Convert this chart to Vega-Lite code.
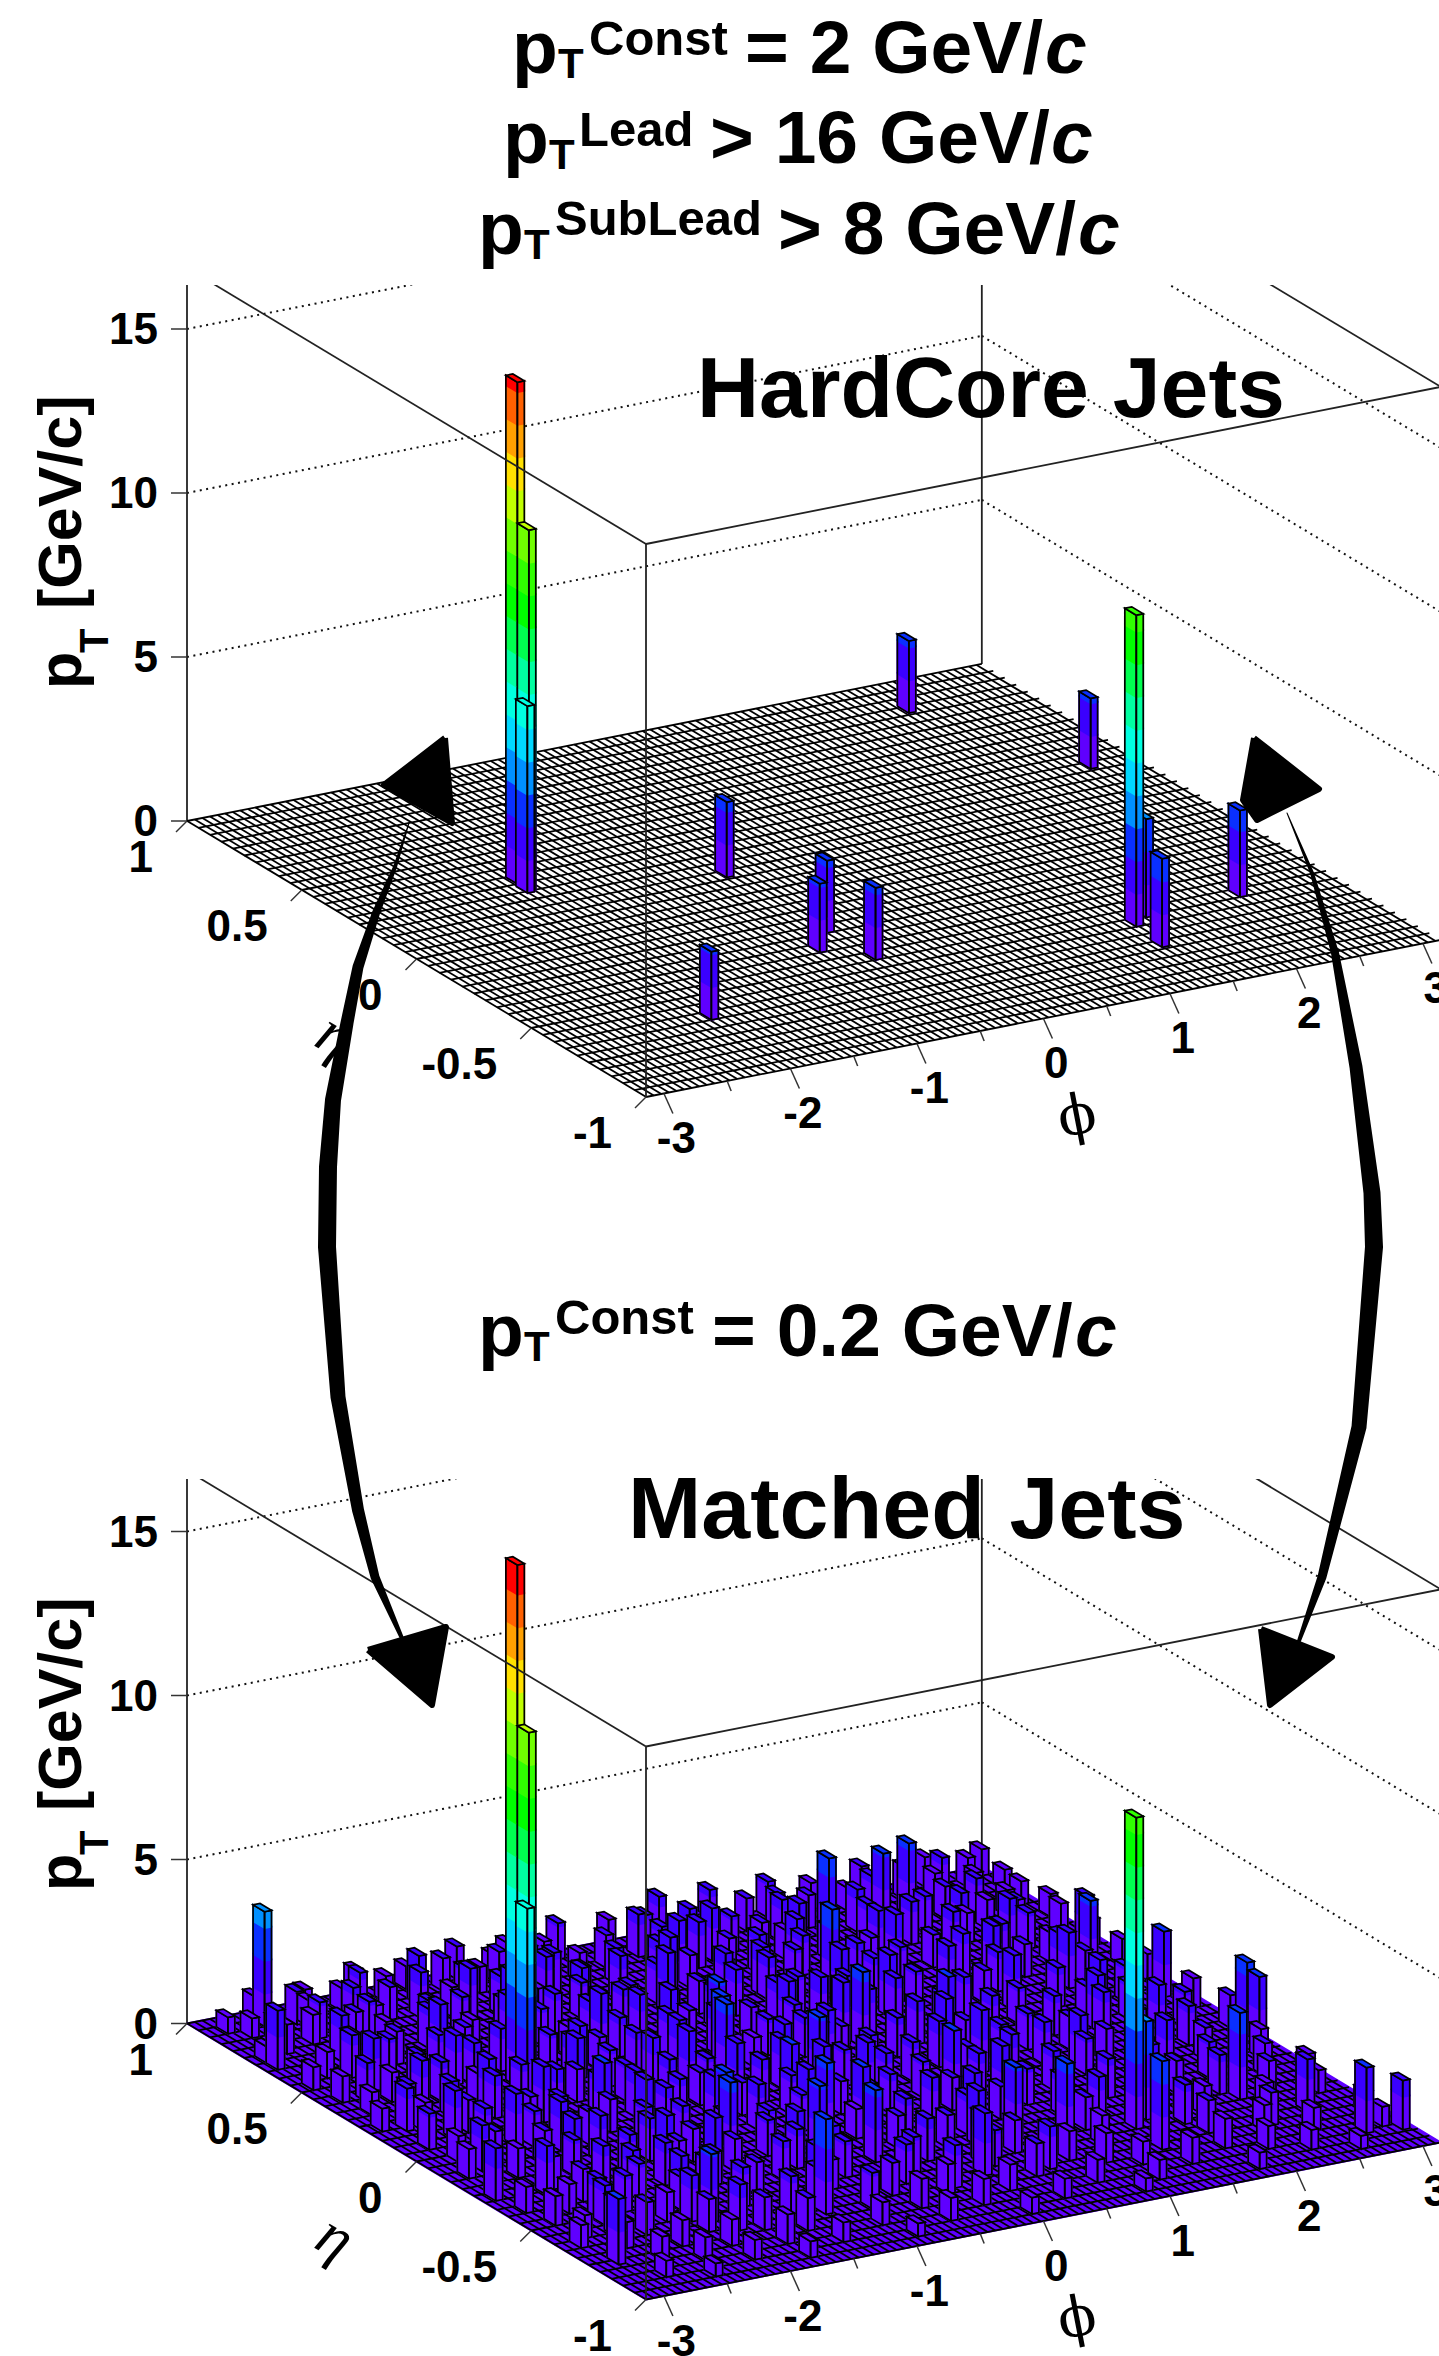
{"$schema":"https://vega.github.io/schema/vega-lite/v6.json","width":1439,"height":2356,"padding":0,"autosize":"none","background":"white",
"config":{"view":{"stroke":null},"axis":{"disable":true},"text":{"font":"Liberation Sans","fontWeight":"bold","align":"left","baseline":"alphabetic","color":"black"}},
"data":{"values":[{}]},
"datasets":{
"frames":[
{"kind":"dot","phi":-3.1416,"eta":1,"z":5,"phi2":3.1416,"eta2":1,"z2":5},
{"kind":"dot","phi":-3.1416,"eta":1,"z":10,"phi2":3.1416,"eta2":1,"z2":10},
{"kind":"dot","phi":-3.1416,"eta":1,"z":15,"phi2":3.1416,"eta2":1,"z2":15},
{"kind":"dot","phi":3.1416,"eta":1,"z":5,"phi2":3.1416,"eta2":-1,"z2":5},
{"kind":"dot","phi":3.1416,"eta":1,"z":10,"phi2":3.1416,"eta2":-1,"z2":10},
{"kind":"dot","phi":3.1416,"eta":1,"z":15,"phi2":3.1416,"eta2":-1,"z2":15},
{"kind":"back","phi":-3.1416,"eta":1,"z":0,"phi2":-3.1416,"eta2":1,"z2":16.86},
{"kind":"back","phi":3.1416,"eta":1,"z":0,"phi2":3.1416,"eta2":1,"z2":16.86},
{"kind":"back","phi":3.1416,"eta":1,"z":16.86,"phi2":3.1416,"eta2":-1,"z2":16.86},
{"kind":"front","phi":-3.1416,"eta":-1,"z":0,"phi2":-3.1416,"eta2":-1,"z2":16.86},
{"kind":"front","phi":-3.1416,"eta":-1,"z":16.86,"phi2":-3.1416,"eta2":1,"z2":16.86},
{"kind":"front","phi":-3.1416,"eta":-1,"z":16.86,"phi2":3.1416,"eta2":-1,"z2":16.86}],
"mesh":[{"g":"e","v":-1},{"g":"e","v":-0.95},{"g":"e","v":-0.9},{"g":"e","v":-0.85},{"g":"e","v":-0.8},{"g":"e","v":-0.75},{"g":"e","v":-0.7},{"g":"e","v":-0.65},{"g":"e","v":-0.6},{"g":"e","v":-0.55},{"g":"e","v":-0.5},{"g":"e","v":-0.45},{"g":"e","v":-0.4},{"g":"e","v":-0.35},{"g":"e","v":-0.3},{"g":"e","v":-0.25},{"g":"e","v":-0.2},{"g":"e","v":-0.15},{"g":"e","v":-0.1},{"g":"e","v":-0.05},{"g":"e","v":0},{"g":"e","v":0.05},{"g":"e","v":0.1},{"g":"e","v":0.15},{"g":"e","v":0.2},{"g":"e","v":0.25},{"g":"e","v":0.3},{"g":"e","v":0.35},{"g":"e","v":0.4},{"g":"e","v":0.45},{"g":"e","v":0.5},{"g":"e","v":0.55},{"g":"e","v":0.6},{"g":"e","v":0.65},{"g":"e","v":0.7},{"g":"e","v":0.75},{"g":"e","v":0.8},{"g":"e","v":0.85},{"g":"e","v":0.9},{"g":"e","v":0.95},{"g":"e","v":1},
{"g":"p","v":-3.14},{"g":"p","v":-3.08},{"g":"p","v":-3.02},{"g":"p","v":-2.96},{"g":"p","v":-2.9},{"g":"p","v":-2.84},{"g":"p","v":-2.78},{"g":"p","v":-2.72},{"g":"p","v":-2.66},{"g":"p","v":-2.6},{"g":"p","v":-2.54},{"g":"p","v":-2.48},{"g":"p","v":-2.42},{"g":"p","v":-2.36},{"g":"p","v":-2.3},{"g":"p","v":-2.24},{"g":"p","v":-2.18},{"g":"p","v":-2.12},{"g":"p","v":-2.06},{"g":"p","v":-2},{"g":"p","v":-1.94},{"g":"p","v":-1.88},{"g":"p","v":-1.82},{"g":"p","v":-1.76},{"g":"p","v":-1.7},{"g":"p","v":-1.64},{"g":"p","v":-1.58},{"g":"p","v":-1.52},{"g":"p","v":-1.46},{"g":"p","v":-1.4},{"g":"p","v":-1.34},{"g":"p","v":-1.28},{"g":"p","v":-1.22},{"g":"p","v":-1.16},{"g":"p","v":-1.1},{"g":"p","v":-1.04},{"g":"p","v":-0.98},{"g":"p","v":-0.92},{"g":"p","v":-0.86},{"g":"p","v":-0.8},{"g":"p","v":-0.74},{"g":"p","v":-0.68},{"g":"p","v":-0.62},{"g":"p","v":-0.56},{"g":"p","v":-0.5},{"g":"p","v":-0.44},{"g":"p","v":-0.38},{"g":"p","v":-0.32},{"g":"p","v":-0.26},{"g":"p","v":-0.2},{"g":"p","v":-0.14},{"g":"p","v":-0.08},{"g":"p","v":-0.02},{"g":"p","v":0.04},{"g":"p","v":0.1},{"g":"p","v":0.16},{"g":"p","v":0.22},{"g":"p","v":0.28},{"g":"p","v":0.34},{"g":"p","v":0.4},{"g":"p","v":0.46},{"g":"p","v":0.52},{"g":"p","v":0.58},{"g":"p","v":0.64},{"g":"p","v":0.7},{"g":"p","v":0.76},{"g":"p","v":0.82},{"g":"p","v":0.88},{"g":"p","v":0.94},{"g":"p","v":1},{"g":"p","v":1.06},{"g":"p","v":1.12},{"g":"p","v":1.18},{"g":"p","v":1.24},{"g":"p","v":1.3},{"g":"p","v":1.36},{"g":"p","v":1.42},{"g":"p","v":1.48},{"g":"p","v":1.54},{"g":"p","v":1.6},{"g":"p","v":1.66},{"g":"p","v":1.72},{"g":"p","v":1.78},{"g":"p","v":1.84},{"g":"p","v":1.9},{"g":"p","v":1.96},{"g":"p","v":2.02},{"g":"p","v":2.08},{"g":"p","v":2.14},{"g":"p","v":2.2},{"g":"p","v":2.26},{"g":"p","v":2.32},{"g":"p","v":2.38},{"g":"p","v":2.44},{"g":"p","v":2.5},{"g":"p","v":2.56},{"g":"p","v":2.62},{"g":"p","v":2.68},{"g":"p","v":2.74},{"g":"p","v":2.8},{"g":"p","v":2.86},{"g":"p","v":2.92},{"g":"p","v":2.98},{"g":"p","v":3.04},{"g":"p","v":3.1}],
"ticks":[{"axis":"z","v":0,"lab":"0"},{"axis":"z","v":5,"lab":"5"},{"axis":"z","v":10,"lab":"10"},{"axis":"z","v":15,"lab":"15"},
{"axis":"e","v":1,"lab":"1"},{"axis":"e","v":0.5,"lab":"0.5"},{"axis":"e","v":0,"lab":"0"},{"axis":"e","v":-0.5,"lab":"-0.5"},{"axis":"e","v":-1,"lab":"-1"},
{"axis":"p","v":-3,"lab":"-3"},{"axis":"p","v":-2,"lab":"-2"},{"axis":"p","v":-1,"lab":"-1"},{"axis":"p","v":0,"lab":"0"},{"axis":"p","v":1,"lab":"1"},{"axis":"p","v":2,"lab":"2"},{"axis":"p","v":3,"lab":"3"},
{"axis":"p","v":-2.5,"lab":""},{"axis":"p","v":-1.5,"lab":""},{"axis":"p","v":-0.5,"lab":""},{"axis":"p","v":0.5,"lab":""},{"axis":"p","v":1.5,"lab":""},{"axis":"p","v":2.5,"lab":""}],
"floor":[{"phi":-3.1416,"eta":1,"o":0},{"phi":-3.1416,"eta":-1,"o":1},{"phi":3.1416,"eta":-1,"o":2},{"phi":3.1416,"eta":1,"o":3},{"phi":-3.1416,"eta":1,"o":4}],
"trails":[
{"a":"L","x":409,"y":823,"w":1},{"a":"L","x":395,"y":867,"w":4},{"a":"L","x":376,"y":913,"w":8},{"a":"L","x":358,"y":967,"w":11},{"a":"L","x":347,"y":1023,"w":13},{"a":"L","x":333,"y":1100,"w":16},{"a":"L","x":328,"y":1167,"w":18},{"a":"L","x":327,"y":1247,"w":18},{"a":"L","x":338,"y":1397,"w":15},{"a":"L","x":358,"y":1510,"w":12},{"a":"L","x":375,"y":1577,"w":9},{"a":"L","x":408,"y":1652,"w":3},
{"a":"R","x":1287,"y":813,"w":1},{"a":"R","x":1312,"y":873,"w":4},{"a":"R","x":1335,"y":953,"w":8},{"a":"R","x":1356,"y":1067,"w":13},{"a":"R","x":1372,"y":1193,"w":17},{"a":"R","x":1374,"y":1247,"w":18},{"a":"R","x":1359,"y":1427,"w":15},{"a":"R","x":1322,"y":1577,"w":9},{"a":"R","x":1295,"y":1652,"w":3}],
"heads":[
{"a":"A","o":0,"x":445,"y":738},{"a":"A","o":1,"x":384,"y":785},{"a":"A","o":2,"x":452,"y":823},{"a":"A","o":3,"x":445,"y":738},
{"a":"B","o":0,"x":368,"y":1650},{"a":"B","o":1,"x":446,"y":1627},{"a":"B","o":2,"x":432,"y":1705},{"a":"B","o":3,"x":368,"y":1650},
{"a":"C","o":0,"x":1254,"y":738},{"a":"C","o":1,"x":1319,"y":789},{"a":"C","o":2,"x":1257,"y":820},{"a":"C","o":3,"x":1243,"y":800},{"a":"C","o":4,"x":1254,"y":738},
{"a":"D","o":0,"x":1261,"y":1629},{"a":"D","o":1,"x":1332,"y":1657},{"a":"D","o":2,"x":1270,"y":1705},{"a":"D","o":3,"x":1261,"y":1629}],
"bars":[
{"panel":0,"eta":0.81,"phi":2.22,"pt":2.2},{"panel":0,"eta":0.31,"phi":2.75,"pt":2.15},{"panel":0,"eta":0.3,"phi":-1.8,"pt":15.3},{"panel":0,"eta":0.25,"phi":-1.8,"pt":11},{"panel":0,"eta":0.24,"phi":-1.83,"pt":5.7},{"panel":0,"eta":0.11,"phi":-0.49,"pt":2.3},{"panel":0,"eta":-0.3,"phi":-0.44,"pt":2.2},{"panel":0,"eta":-0.4,"phi":-0.68,"pt":2.1},{"panel":0,"eta":-0.5,"phi":-0.42,"pt":2.2},{"panel":0,"eta":-0.55,"phi":2.37,"pt":2.64},{"panel":0,"eta":-0.56,"phi":1.61,"pt":3},{"panel":0,"eta":-0.6,"phi":1.46,"pt":9.5},{"panel":0,"eta":-0.65,"phi":-1.99,"pt":2.08},{"panel":0,"eta":-0.74,"phi":1.41,"pt":2.7},
{"eta":0.95,"phi":3.05,"pt":0.8},{"eta":0.95,"phi":2.6,"pt":0.9},{"eta":0.95,"phi":2.1,"pt":1},{"eta":0.95,"phi":1.7,"pt":0.8},{"eta":0.95,"phi":1.36,"pt":1.1},{"eta":0.95,"phi":0.9,"pt":1.2},{"eta":0.95,"phi":0.5,"pt":1.3},{"eta":0.95,"phi":0.1,"pt":0.9},{"eta":0.95,"phi":-0.3,"pt":1.1},{"eta":0.95,"phi":-0.7,"pt":0.8},{"eta":0.95,"phi":-1.1,"pt":1},{"eta":0.95,"phi":-1.5,"pt":0.7},{"eta":0.95,"phi":-1.9,"pt":0.9},{"eta":0.95,"phi":-2.3,"pt":0.6},{"eta":0.95,"phi":-2.7,"pt":0.7},
{"eta":0.9,"phi":2.85,"pt":0.9},{"eta":0.9,"phi":2.35,"pt":1},{"eta":0.9,"phi":1.9,"pt":0.7},{"eta":0.9,"phi":1.1,"pt":1},{"eta":0.9,"phi":0.7,"pt":0.8},{"eta":0.9,"phi":0.3,"pt":1.1},{"eta":0.9,"phi":-0.5,"pt":0.9},{"eta":0.9,"phi":-0.9,"pt":0.8},{"eta":0.9,"phi":-1.3,"pt":1},{"eta":0.9,"phi":-1.75,"pt":0.8},{"eta":0.9,"phi":-2.1,"pt":0.7},{"eta":0.9,"phi":-2.71,"pt":3.5},{"eta":0.9,"phi":-3,"pt":0.5},
{"eta":0.875,"phi":2.6,"pt":1.2},{"eta":0.875,"phi":1.3,"pt":1.1},{"eta":0.875,"phi":0.2,"pt":1.3},{"eta":0.875,"phi":-0.9,"pt":1},{"eta":0.875,"phi":-2,"pt":1.2},{"eta":0.875,"phi":-2.5,"pt":1},
{"eta":0.85,"phi":3.05,"pt":0.6},{"eta":0.85,"phi":2.5,"pt":0.9},{"eta":0.85,"phi":2,"pt":1.2},{"eta":0.85,"phi":1.5,"pt":1},{"eta":0.85,"phi":0.56,"pt":1.3},{"eta":0.85,"phi":-0.1,"pt":1},{"eta":0.85,"phi":-0.7,"pt":1.1},{"eta":0.85,"phi":-1.1,"pt":0.8},{"eta":0.85,"phi":-1.58,"pt":1.5},{"eta":0.85,"phi":-2.45,"pt":0.8},{"eta":0.85,"phi":-2.9,"pt":0.6},
{"eta":0.81,"phi":2.75,"pt":0.9},{"eta":0.81,"phi":2.22,"pt":2.2},{"eta":0.8,"phi":2,"pt":2.1},{"eta":0.8,"phi":1.2,"pt":1.3},{"eta":0.8,"phi":0.8,"pt":1.1},{"eta":0.8,"phi":0.25,"pt":1.2},{"eta":0.8,"phi":-0.4,"pt":0.9},{"eta":0.8,"phi":-1.3,"pt":1.1},{"eta":0.8,"phi":-1.9,"pt":1},{"eta":0.8,"phi":-2.19,"pt":1.2},{"eta":0.8,"phi":-2.8,"pt":0.7},
{"eta":0.775,"phi":1.75,"pt":1.3},{"eta":0.775,"phi":0.6,"pt":1.6},{"eta":0.775,"phi":-0.65,"pt":1.2},{"eta":0.775,"phi":-1.7,"pt":1.4},{"eta":0.775,"phi":-2.5,"pt":1.1},
{"eta":0.75,"phi":3,"pt":0.7},{"eta":0.75,"phi":2.4,"pt":1},{"eta":0.75,"phi":1.48,"pt":2.56},{"eta":0.75,"phi":0.95,"pt":1},{"eta":0.75,"phi":0.45,"pt":1.4},{"eta":0.75,"phi":-0.2,"pt":1.1},{"eta":0.75,"phi":-0.9,"pt":1},{"eta":0.75,"phi":-1.5,"pt":0.9},{"eta":0.75,"phi":-2.1,"pt":0.8},{"eta":0.75,"phi":-2.6,"pt":0.9},
{"eta":0.725,"phi":2.6,"pt":1.2},{"eta":0.725,"phi":1.2,"pt":1.5},{"eta":0.725,"phi":0.25,"pt":1.7},{"eta":0.725,"phi":-0.8,"pt":1.4},{"eta":0.725,"phi":-1.4,"pt":1.5},{"eta":0.725,"phi":-2.2,"pt":1.1},{"eta":0.725,"phi":-2.85,"pt":0.9},
{"eta":0.7,"phi":2.8,"pt":0.8},{"eta":0.7,"phi":2.15,"pt":1.1},{"eta":0.7,"phi":1.7,"pt":1.2},{"eta":0.7,"phi":1.05,"pt":0.9},{"eta":0.7,"phi":0.6,"pt":1},{"eta":0.7,"phi":0.05,"pt":1.3},{"eta":0.7,"phi":-0.55,"pt":1},{"eta":0.7,"phi":-1.2,"pt":1.2},{"eta":0.7,"phi":-1.75,"pt":0.9},{"eta":0.7,"phi":-2.35,"pt":1},{"eta":0.7,"phi":-3.06,"pt":0.5},
{"eta":0.65,"phi":3.05,"pt":0.7},{"eta":0.65,"phi":2.55,"pt":0.9},{"eta":0.65,"phi":1.95,"pt":1.3},{"eta":0.65,"phi":1.3,"pt":1},{"eta":0.65,"phi":0.75,"pt":1.2},{"eta":0.65,"phi":0.2,"pt":1},{"eta":0.65,"phi":-0.35,"pt":1.4},{"eta":0.65,"phi":-1,"pt":0.9},{"eta":0.65,"phi":-1.6,"pt":1.1},{"eta":0.65,"phi":-2.2,"pt":0.8},{"eta":0.65,"phi":-3.06,"pt":1.8},
{"eta":0.625,"phi":2.3,"pt":1.4},{"eta":0.625,"phi":1,"pt":1.6},{"eta":0.625,"phi":0,"pt":1.8},{"eta":0.625,"phi":-0.7,"pt":1.4},{"eta":0.625,"phi":-1.25,"pt":1.7},{"eta":0.625,"phi":-1.9,"pt":1.3},{"eta":0.625,"phi":-2.6,"pt":1.4},
{"eta":0.6,"phi":2.7,"pt":1},{"eta":0.6,"phi":2.3,"pt":0.9},{"eta":0.6,"phi":1.6,"pt":1.5},{"eta":0.6,"phi":1,"pt":1.2},{"eta":0.6,"phi":0.4,"pt":0.9},{"eta":0.6,"phi":-0.15,"pt":1.2},{"eta":0.6,"phi":-0.75,"pt":1.1},{"eta":0.6,"phi":-1.35,"pt":1},{"eta":0.6,"phi":-1.95,"pt":1.2},{"eta":0.6,"phi":-2.55,"pt":0.9},
{"eta":0.55,"phi":2.95,"pt":0.9},{"eta":0.55,"phi":2.1,"pt":1.3},{"eta":0.55,"phi":1.45,"pt":1},{"eta":0.55,"phi":0.85,"pt":1.1},{"eta":0.55,"phi":0.3,"pt":1.4},{"eta":0.55,"phi":-0.45,"pt":1},{"eta":0.55,"phi":-1.05,"pt":1.2},{"eta":0.55,"phi":-1.7,"pt":0.9},{"eta":0.55,"phi":-2.3,"pt":1},{"eta":0.55,"phi":-2.85,"pt":0.8},
{"eta":0.525,"phi":2.5,"pt":1.5},{"eta":0.525,"phi":1.6,"pt":1.7},{"eta":0.525,"phi":0.55,"pt":1.5},{"eta":0.525,"phi":-0.2,"pt":1.9},{"eta":0.525,"phi":-1.45,"pt":1.5},{"eta":0.525,"phi":-2,"pt":1.7},{"eta":0.525,"phi":-2.7,"pt":1.3},
{"eta":0.5,"phi":2.6,"pt":1.1},{"eta":0.5,"phi":1.85,"pt":1},{"eta":0.5,"phi":1.25,"pt":1.2},{"eta":0.5,"phi":0.55,"pt":1.3},{"eta":0.5,"phi":0,"pt":1},{"eta":0.5,"phi":-0.6,"pt":1.2},{"eta":0.5,"phi":-1.25,"pt":1.1},{"eta":0.5,"phi":-1.85,"pt":1},{"eta":0.5,"phi":-2.45,"pt":1.1},{"eta":0.5,"phi":-3.05,"pt":0.7},
{"eta":0.46,"phi":0.98,"pt":2.6},{"eta":0.45,"phi":3.02,"pt":0.8},{"eta":0.45,"phi":2.3,"pt":1.2},{"eta":0.45,"phi":1.5,"pt":1.1},{"eta":0.45,"phi":0.2,"pt":1.4},{"eta":0.45,"phi":-0.3,"pt":1},{"eta":0.45,"phi":-0.95,"pt":1.3},{"eta":0.45,"phi":-1.5,"pt":1},{"eta":0.45,"phi":-2.15,"pt":1.2},
{"eta":0.43,"phi":-2.7,"pt":1.6},{"eta":0.42,"phi":2.92,"pt":1.7},{"eta":0.42,"phi":1.94,"pt":1.3},
{"eta":0.4,"phi":2.6,"pt":0.9},{"eta":0.4,"phi":1.2,"pt":1.2},{"eta":0.4,"phi":0.6,"pt":1.1},{"eta":0.4,"phi":-0.05,"pt":1.2},{"eta":0.4,"phi":-0.65,"pt":1.5},{"eta":0.4,"phi":-1.2,"pt":0.9},{"eta":0.4,"phi":-1.75,"pt":1.3},{"eta":0.4,"phi":-2.4,"pt":1},{"eta":0.4,"phi":-3,"pt":0.8},
{"eta":0.375,"phi":2.1,"pt":1.6},{"eta":0.375,"phi":0.9,"pt":1.8},{"eta":0.375,"phi":-0.45,"pt":1.6},{"eta":0.375,"phi":-1,"pt":1.9},{"eta":0.375,"phi":-2.15,"pt":1.5},{"eta":0.375,"phi":-2.85,"pt":1.2},
{"eta":0.35,"phi":2.3,"pt":1},{"eta":0.35,"phi":1.7,"pt":1.4},{"eta":0.35,"phi":0.9,"pt":1.1},{"eta":0.35,"phi":0.35,"pt":1.3},{"eta":0.35,"phi":-0.35,"pt":1},{"eta":0.35,"phi":-0.9,"pt":1.2},{"eta":0.35,"phi":-1.45,"pt":1.1},{"eta":0.35,"phi":-2.05,"pt":1.3},{"eta":0.35,"phi":-2.7,"pt":0.9},
{"eta":0.31,"phi":3,"pt":0.8},{"eta":0.31,"phi":2.75,"pt":2.15},{"eta":0.3,"phi":2,"pt":1.2},{"eta":0.3,"phi":1.35,"pt":1.1},{"eta":0.3,"phi":0.6,"pt":1.5},{"eta":0.3,"phi":0.05,"pt":1},{"eta":0.3,"phi":-0.6,"pt":1.3},{"eta":0.3,"phi":-1.15,"pt":1},{"eta":0.3,"phi":-1.8,"pt":15.9},{"eta":0.3,"phi":-2.4,"pt":1.2},{"eta":0.3,"phi":-2.95,"pt":0.7},
{"eta":0.275,"phi":2.45,"pt":1.5},{"eta":0.275,"phi":1.1,"pt":1.9},{"eta":0.275,"phi":0.3,"pt":1.7},{"eta":0.275,"phi":-0.25,"pt":2.1},{"eta":0.275,"phi":-1.35,"pt":1.6},{"eta":0.275,"phi":-2.6,"pt":1.5},
{"eta":0.25,"phi":2.6,"pt":1},{"eta":0.25,"phi":1.8,"pt":1},{"eta":0.25,"phi":1.1,"pt":1.3},{"eta":0.25,"phi":0.3,"pt":1.1},{"eta":0.25,"phi":-0.3,"pt":1.4},{"eta":0.25,"phi":-0.95,"pt":1.2},{"eta":0.25,"phi":-1.45,"pt":1.4},{"eta":0.25,"phi":-1.8,"pt":11},{"eta":0.24,"phi":-1.83,"pt":5.7},{"eta":0.25,"phi":-2.2,"pt":0.9},{"eta":0.25,"phi":-2.75,"pt":1},
{"eta":0.24,"phi":2.45,"pt":1.7},{"eta":0.2,"phi":3,"pt":0.8},{"eta":0.2,"phi":1.55,"pt":1.2},{"eta":0.2,"phi":0.8,"pt":1.4},{"eta":0.2,"phi":0,"pt":1.1},{"eta":0.2,"phi":-0.7,"pt":1.6},{"eta":0.2,"phi":-1.25,"pt":1.1},{"eta":0.2,"phi":-1.95,"pt":1.2},{"eta":0.2,"phi":-2.5,"pt":1.1},{"eta":0.2,"phi":-3.05,"pt":0.7},
{"eta":0.175,"phi":1.9,"pt":1.7},{"eta":0.175,"phi":0.55,"pt":1.9},{"eta":0.175,"phi":-0.4,"pt":2.2},{"eta":0.175,"phi":-1.55,"pt":1.8},{"eta":0.175,"phi":-2.25,"pt":1.7},{"eta":0.175,"phi":-2.9,"pt":1.3},
{"eta":0.15,"phi":2.2,"pt":1.2},{"eta":0.15,"phi":1.3,"pt":1.1},{"eta":0.14,"phi":0.64,"pt":2.3},{"eta":0.15,"phi":0.2,"pt":1.2},{"eta":0.15,"phi":-0.2,"pt":0.9},{"eta":0.15,"phi":-1,"pt":1.5},{"eta":0.15,"phi":-1.6,"pt":1},{"eta":0.15,"phi":-2.25,"pt":1.3},{"eta":0.15,"phi":-2.8,"pt":0.9},
{"eta":0.11,"phi":-0.49,"pt":2.3},{"eta":0.1,"phi":2.65,"pt":1.1},{"eta":0.09,"phi":2.93,"pt":2},{"eta":0.1,"phi":1.8,"pt":1.1},{"eta":0.1,"phi":1,"pt":1.3},{"eta":0.1,"phi":0.4,"pt":1},{"eta":0.1,"phi":-0.05,"pt":1.4},{"eta":0.1,"phi":-1.3,"pt":1.1},{"eta":0.1,"phi":-1.85,"pt":1.4},{"eta":0.1,"phi":-2.55,"pt":1},
{"eta":0.075,"phi":2.4,"pt":1.6},{"eta":0.075,"phi":1.2,"pt":2},{"eta":0.075,"phi":0.25,"pt":1.7},{"eta":0.075,"phi":-0.85,"pt":1.9},{"eta":0.075,"phi":-2,"pt":1.7},{"eta":0.075,"phi":-2.7,"pt":1.5},
{"eta":0.05,"phi":2.25,"pt":1},{"eta":0.05,"phi":1.5,"pt":1.3},{"eta":0.05,"phi":0.75,"pt":1.2},{"eta":0.05,"phi":0.15,"pt":1.5},{"eta":0.05,"phi":-0.75,"pt":1.1},{"eta":0.05,"phi":-1.05,"pt":1.3},{"eta":0.05,"phi":-1.6,"pt":1.2},{"eta":0.05,"phi":-2.15,"pt":1},{"eta":0.05,"phi":-2.95,"pt":1.1},
{"eta":0,"phi":3,"pt":0.9},{"eta":0,"phi":2.5,"pt":1.1},{"eta":0,"phi":1.9,"pt":1.2},{"eta":0,"phi":1.2,"pt":1},{"eta":0,"phi":0.45,"pt":1.1},{"eta":0,"phi":-0.25,"pt":1.5},{"eta":0,"phi":-0.9,"pt":1},{"eta":0,"phi":-1.4,"pt":1.4},{"eta":0,"phi":-2,"pt":1.1},{"eta":0,"phi":-2.6,"pt":1.2},
{"eta":-0.025,"phi":2.2,"pt":1.7},{"eta":-0.025,"phi":1,"pt":1.9},{"eta":-0.025,"phi":0,"pt":2.1},{"eta":-0.025,"phi":-0.65,"pt":1.8},{"eta":-0.025,"phi":-1.7,"pt":2},{"eta":-0.025,"phi":-2.4,"pt":1.6},
{"eta":-0.05,"phi":2.2,"pt":1.3},{"eta":-0.05,"phi":1.6,"pt":1.1},{"eta":-0.05,"phi":0.9,"pt":1.4},{"eta":-0.05,"phi":0.15,"pt":1.1},{"eta":-0.05,"phi":-0.5,"pt":1.3},{"eta":-0.05,"phi":-1.15,"pt":1.2},{"eta":-0.05,"phi":-1.7,"pt":1},{"eta":-0.05,"phi":-2.3,"pt":1.1},{"eta":-0.05,"phi":-2.9,"pt":0.8},
{"eta":-0.1,"phi":2.75,"pt":1.1},{"eta":-0.1,"phi":1.85,"pt":1},{"eta":-0.1,"phi":1.3,"pt":1.2},{"eta":-0.1,"phi":0.6,"pt":1.2},{"eta":-0.1,"phi":-0.1,"pt":1.6},{"eta":-0.1,"phi":-0.75,"pt":1},{"eta":-0.1,"phi":-1.35,"pt":1.3},{"eta":-0.1,"phi":-1.95,"pt":1},{"eta":-0.1,"phi":-2.18,"pt":1.5},{"eta":-0.1,"phi":-2.7,"pt":1},
{"eta":-0.125,"phi":2.5,"pt":1.6},{"eta":-0.125,"phi":1.1,"pt":1.9},{"eta":-0.125,"phi":0.2,"pt":1.6},{"eta":-0.125,"phi":-0.4,"pt":2},{"eta":-0.125,"phi":-1.55,"pt":1.8},{"eta":-0.125,"phi":-2.85,"pt":1.4},
{"eta":-0.15,"phi":3.02,"pt":1},{"eta":-0.15,"phi":2.3,"pt":1.1},{"eta":-0.15,"phi":1.55,"pt":1.3},{"eta":-0.15,"phi":0.95,"pt":1},{"eta":-0.15,"phi":0.3,"pt":1.3},{"eta":-0.15,"phi":-0.45,"pt":1.2},{"eta":-0.15,"phi":-1.05,"pt":1.6},{"eta":-0.15,"phi":-1.6,"pt":1.1},{"eta":-0.15,"phi":-2.4,"pt":1},{"eta":-0.15,"phi":-3,"pt":0.9},
{"eta":-0.2,"phi":2.6,"pt":1.2},{"eta":-0.2,"phi":1.95,"pt":1},{"eta":-0.2,"phi":1.2,"pt":1.4},{"eta":-0.2,"phi":0.5,"pt":1.1},{"eta":-0.2,"phi":-0.15,"pt":1},{"eta":-0.2,"phi":-0.8,"pt":1.4},{"eta":-0.2,"phi":-1.4,"pt":1.2},{"eta":-0.2,"phi":-2.05,"pt":1.4},{"eta":-0.2,"phi":-2.7,"pt":0.9},
{"eta":-0.225,"phi":1.7,"pt":1.7},{"eta":-0.225,"phi":0.7,"pt":2},{"eta":-0.225,"phi":-0.45,"pt":1.7},{"eta":-0.225,"phi":-1.1,"pt":2.1},{"eta":-0.225,"phi":-2.3,"pt":1.6},
{"eta":-0.24,"phi":2.99,"pt":2.4},{"eta":-0.25,"phi":2.25,"pt":1},{"eta":-0.25,"phi":1.7,"pt":1.1},{"eta":-0.25,"phi":0.85,"pt":1.3},{"eta":-0.25,"phi":0.15,"pt":1.2},{"eta":-0.25,"phi":-0.55,"pt":1.1},{"eta":-0.25,"phi":-1.15,"pt":1},{"eta":-0.25,"phi":-1.75,"pt":1.3},{"eta":-0.25,"phi":-2.35,"pt":1.1},{"eta":-0.26,"phi":3.05,"pt":2},
{"eta":-0.3,"phi":2.55,"pt":1},{"eta":-0.3,"phi":1.35,"pt":1.2},{"eta":-0.3,"phi":0.55,"pt":1},{"eta":-0.3,"phi":-0.1,"pt":1.3},{"eta":-0.3,"phi":-0.44,"pt":2.2},{"eta":-0.3,"phi":-0.9,"pt":1.1},{"eta":-0.3,"phi":-1.5,"pt":1},{"eta":-0.3,"phi":-2,"pt":1.2},{"eta":-0.3,"phi":-2.6,"pt":1},{"eta":-0.3,"phi":-3.06,"pt":1.6},
{"eta":-0.32,"phi":-1.24,"pt":2.3},{"eta":-0.325,"phi":2.2,"pt":1.6},{"eta":-0.325,"phi":0.9,"pt":1.8},{"eta":-0.325,"phi":-0.2,"pt":2},{"eta":-0.325,"phi":-1.75,"pt":1.7},{"eta":-0.325,"phi":-2.7,"pt":1.5},
{"eta":-0.35,"phi":2.9,"pt":0.9},{"eta":-0.35,"phi":2,"pt":1.3},{"eta":-0.35,"phi":1.05,"pt":1.1},{"eta":-0.35,"phi":0.3,"pt":1.4},{"eta":-0.35,"phi":-0.3,"pt":0.9},{"eta":-0.35,"phi":-1,"pt":1.1},{"eta":-0.35,"phi":-1.7,"pt":1},{"eta":-0.35,"phi":-2.3,"pt":1.3},
{"eta":-0.4,"phi":2.4,"pt":1.1},{"eta":-0.4,"phi":1.6,"pt":1.2},{"eta":-0.4,"phi":0.75,"pt":1},{"eta":-0.4,"phi":0,"pt":1.2},{"eta":-0.4,"phi":-0.68,"pt":2.1},{"eta":-0.4,"phi":-1.35,"pt":1},{"eta":-0.4,"phi":-1.9,"pt":1.3},{"eta":-0.4,"phi":-2.55,"pt":1},{"eta":-0.4,"phi":-3,"pt":0.8},
{"eta":-0.425,"phi":1.9,"pt":1.5},{"eta":-0.425,"phi":0.5,"pt":1.7},{"eta":-0.425,"phi":-0.9,"pt":1.6},{"eta":-0.425,"phi":-1.55,"pt":1.9},{"eta":-0.425,"phi":-2.2,"pt":1.4},
{"eta":-0.45,"phi":2.75,"pt":1},{"eta":-0.45,"phi":2.05,"pt":1},{"eta":-0.45,"phi":1.15,"pt":1.2},{"eta":-0.45,"phi":0.4,"pt":1.2},{"eta":-0.45,"phi":-0.15,"pt":1},{"eta":-0.45,"phi":-0.95,"pt":1.2},{"eta":-0.45,"phi":-1.6,"pt":1},{"eta":-0.45,"phi":-2.2,"pt":1.1},{"eta":-0.45,"phi":-2.75,"pt":0.9},
{"eta":-0.5,"phi":3,"pt":0.7},{"eta":-0.5,"phi":2.3,"pt":1.2},{"eta":-0.5,"phi":1.75,"pt":1},{"eta":-0.51,"phi":0.67,"pt":2.1},{"eta":-0.5,"phi":0.15,"pt":1},{"eta":-0.5,"phi":-0.42,"pt":2.2},{"eta":-0.5,"phi":-1.15,"pt":1.2},{"eta":-0.5,"phi":-1.75,"pt":1.1},{"eta":-0.5,"phi":-2.4,"pt":1.1},{"eta":-0.5,"phi":-2.95,"pt":0.9},
{"eta":-0.525,"phi":1.3,"pt":1.4},{"eta":-0.525,"phi":0.35,"pt":1.7},{"eta":-0.525,"phi":-0.8,"pt":1.5},{"eta":-0.525,"phi":-2,"pt":1.5},{"eta":-0.525,"phi":-2.65,"pt":1.3},
{"eta":-0.55,"phi":2.6,"pt":1},{"eta":-0.55,"phi":2.37,"pt":2.64},{"eta":-0.56,"phi":1.61,"pt":3},{"eta":-0.55,"phi":1.15,"pt":1},{"eta":-0.55,"phi":0.35,"pt":1.1},{"eta":-0.55,"phi":-0.1,"pt":1.3},{"eta":-0.55,"phi":-0.75,"pt":1.1},{"eta":-0.55,"phi":-1.45,"pt":1},{"eta":-0.55,"phi":-2.05,"pt":1},{"eta":-0.55,"phi":-2.65,"pt":1.2},
{"eta":-0.58,"phi":0.95,"pt":2.3},{"eta":-0.6,"phi":2.9,"pt":0.7},{"eta":-0.6,"phi":2,"pt":0.9},{"eta":-0.6,"phi":1.46,"pt":9.5},{"eta":-0.6,"phi":0.5,"pt":1},{"eta":-0.6,"phi":-0.3,"pt":1.1},{"eta":-0.6,"phi":-0.95,"pt":0.9},{"eta":-0.6,"phi":-1.65,"pt":1.2},{"eta":-0.6,"phi":-2.25,"pt":0.9},{"eta":-0.6,"phi":-2.9,"pt":0.7},
{"eta":-0.625,"phi":1.8,"pt":1.2},{"eta":-0.625,"phi":0.2,"pt":1.5},{"eta":-0.625,"phi":-1.1,"pt":1.5},{"eta":-0.625,"phi":-2.1,"pt":1.4},{"eta":-0.625,"phi":-2.7,"pt":1.1},
{"eta":-0.65,"phi":2.4,"pt":0.9},{"eta":-0.65,"phi":1.1,"pt":0.9},{"eta":-0.65,"phi":0.25,"pt":1.1},{"eta":-0.65,"phi":-0.45,"pt":1.2},{"eta":-0.65,"phi":-1.15,"pt":1},{"eta":-0.65,"phi":-1.99,"pt":2.08},{"eta":-0.65,"phi":-2.5,"pt":1},{"eta":-0.65,"phi":-3.02,"pt":0.7},
{"eta":-0.69,"phi":2.65,"pt":1.6},{"eta":-0.7,"phi":1.85,"pt":1},{"eta":-0.7,"phi":0.75,"pt":0.9},{"eta":-0.69,"phi":0.1,"pt":1.9},{"eta":-0.7,"phi":-0.65,"pt":1},{"eta":-0.7,"phi":-1.45,"pt":1.2},{"eta":-0.7,"phi":-2.1,"pt":1},{"eta":-0.7,"phi":-2.75,"pt":0.8},
{"eta":-0.73,"phi":-1.23,"pt":2.9},{"eta":-0.74,"phi":1.41,"pt":2.7},{"eta":-0.725,"phi":2.3,"pt":1},{"eta":-0.725,"phi":0.55,"pt":1.3},{"eta":-0.725,"phi":-0.2,"pt":1.3},{"eta":-0.725,"phi":-1.9,"pt":1.4},
{"eta":-0.75,"phi":3,"pt":0.6},{"eta":-0.75,"phi":2.2,"pt":0.8},{"eta":-0.75,"phi":0.95,"pt":0.9},{"eta":-0.75,"phi":0.4,"pt":1},{"eta":-0.75,"phi":-0.3,"pt":0.9},{"eta":-0.75,"phi":-0.9,"pt":1.1},{"eta":-0.75,"phi":-1.75,"pt":1},{"eta":-0.75,"phi":-2.4,"pt":0.8},
{"eta":-0.78,"phi":-2.96,"pt":2},{"eta":-0.8,"phi":2.5,"pt":0.7},{"eta":-0.8,"phi":1.8,"pt":0.9},{"eta":-0.8,"phi":1.15,"pt":0.7},{"eta":-0.8,"phi":0.1,"pt":0.8},{"eta":-0.8,"phi":-0.6,"pt":0.9},{"eta":-0.8,"phi":-1.5,"pt":1},{"eta":-0.8,"phi":-2.1,"pt":0.8},{"eta":-0.8,"phi":-2.65,"pt":0.7},
{"eta":-0.85,"phi":2.95,"pt":0.6},{"eta":-0.85,"phi":2.05,"pt":0.7},{"eta":-0.85,"phi":1.45,"pt":0.8},{"eta":-0.85,"phi":0.7,"pt":0.7},{"eta":-0.85,"phi":-0.2,"pt":0.8},{"eta":-0.85,"phi":-1,"pt":0.7},{"eta":-0.85,"phi":-1.75,"pt":0.9},{"eta":-0.85,"phi":-2.4,"pt":0.7},
{"eta":-0.87,"phi":2.79,"pt":2},{"eta":-0.89,"phi":3.04,"pt":1.5},{"eta":-0.9,"phi":2.3,"pt":0.6},{"eta":-0.9,"phi":1.1,"pt":0.6},{"eta":-0.9,"phi":0.35,"pt":0.6},{"eta":-0.9,"phi":-0.55,"pt":0.7},{"eta":-0.9,"phi":-1.4,"pt":0.6},{"eta":-0.9,"phi":-2.1,"pt":0.6},{"eta":-0.9,"phi":-2.8,"pt":0.5},
{"eta":-0.95,"phi":2.6,"pt":0.4},{"eta":-0.95,"phi":1.8,"pt":0.5},{"eta":-0.95,"phi":0.9,"pt":0.4},{"eta":-0.95,"phi":0,"pt":0.5},{"eta":-0.95,"phi":-0.9,"pt":0.4},{"eta":-0.95,"phi":-1.75,"pt":0.5},{"eta":-0.95,"phi":-2.5,"pt":0.4}]
},
"layer":[
{"data":{"name":"frames"},"transform":[{"filter":"datum.kind=='dot'"},{"calculate":"[0,1]","as":"panel"},{"flatten":["panel"]},{"calculate":"187+229.5*(1-datum.eta)+126.5*(datum.phi+PI)","as":"x"},{"calculate":"821+138*(1-datum.eta)-25*(datum.phi+PI)-32.8*datum.z+1202.5*datum.panel","as":"y"},{"calculate":"187+229.5*(1-datum.eta2)+126.5*(datum.phi2+PI)","as":"x2"},{"calculate":"821+138*(1-datum.eta2)-25*(datum.phi2+PI)-32.8*datum.z2+1202.5*datum.panel","as":"y2"}],
"mark":{"type":"rule","color":"#111","strokeWidth":2,"strokeDash":[2,4.5]},
"encoding":{"x":{"field":"x","type":"quantitative","scale":{"domain":[0,1439],"nice":false,"zero":false}},"y":{"field":"y","type":"quantitative","scale":{"domain":[2356,0],"nice":false,"zero":false}},"x2":{"field":"x2"},"y2":{"field":"y2"},"detail":{"field":"panel"}}},
{"data":{"name":"frames"},"transform":[{"filter":"datum.kind=='back'"},{"calculate":"[0,1]","as":"panel"},{"flatten":["panel"]},{"calculate":"187+229.5*(1-datum.eta)+126.5*(datum.phi+PI)","as":"x"},{"calculate":"821+138*(1-datum.eta)-25*(datum.phi+PI)-32.8*datum.z+1202.5*datum.panel","as":"y"},{"calculate":"187+229.5*(1-datum.eta2)+126.5*(datum.phi2+PI)","as":"x2"},{"calculate":"821+138*(1-datum.eta2)-25*(datum.phi2+PI)-32.8*datum.z2+1202.5*datum.panel","as":"y2"}],
"mark":{"type":"rule","color":"#222","strokeWidth":1.8},
"encoding":{"x":{"field":"x","type":"quantitative"},"y":{"field":"y","type":"quantitative"},"x2":{"field":"x2"},"y2":{"field":"y2"}}},
{"data":{"name":"floor"},"transform":[{"calculate":"187+229.5*(1-datum.eta)+126.5*(datum.phi+PI)","as":"x"},{"calculate":"821+138*(1-datum.eta)-25*(datum.phi+PI)+1202.5","as":"y"}],
"mark":{"type":"line","filled":true,"fill":"#5f00ff","stroke":"#5f00ff"},
"encoding":{"x":{"field":"x","type":"quantitative"},"y":{"field":"y","type":"quantitative"},"order":{"field":"o","type":"quantitative"}}},
{"data":{"name":"mesh"},"transform":[{"calculate":"[0,1]","as":"panel"},{"flatten":["panel"]},{"calculate":"datum.g=='p'?datum.v:-PI","as":"p1"},{"calculate":"datum.g=='p'?-1:datum.v","as":"e1"},{"calculate":"datum.g=='p'?datum.v:PI","as":"p2"},{"calculate":"datum.g=='p'?1:datum.v","as":"e2"},{"calculate":"187+229.5*(1-datum.e1)+126.5*(datum.p1+PI)","as":"x"},{"calculate":"821+138*(1-datum.e1)-25*(datum.p1+PI)+1202.5*datum.panel","as":"y"},{"calculate":"187+229.5*(1-datum.e2)+126.5*(datum.p2+PI)","as":"x2"},{"calculate":"821+138*(1-datum.e2)-25*(datum.p2+PI)+1202.5*datum.panel","as":"y2"}],
"mark":{"type":"rule","color":"#000","strokeWidth":1.8},
"encoding":{"x":{"field":"x","type":"quantitative"},"y":{"field":"y","type":"quantitative"},"x2":{"field":"x2"},"y2":{"field":"y2"}}},
{"data":{"name":"bars"},"transform":[
{"calculate":"datum.panel===0?0:1","as":"pan"},
{"calculate":"[0,1,2,3,4,5,6,7,8,9,10,11,12,13,14,15,99]","as":"lv"},{"flatten":["lv"]},{"filter":"datum.lv==99||datum.lv<datum.pt"},
{"calculate":"[0,1,2]","as":"k"},{"flatten":["k"]},{"filter":"datum.k<2||datum.lv==99"},
{"calculate":"[0,1,2,3,4]","as":"vv"},{"flatten":["vv"]},
{"calculate":"datum.vv%4","as":"w"},
{"calculate":"datum.k==0?datum.phi:((datum.w==1||datum.w==2)?datum.phi+0.055:datum.phi)","as":"pv"},
{"calculate":"datum.k==0?((datum.w==0||datum.w==3)?datum.eta+0.05:datum.eta):(datum.k==1?datum.eta:(datum.w>=2?datum.eta+0.05:datum.eta))","as":"ev"},
{"calculate":"datum.k==2?datum.pt:(datum.w<2?(datum.lv==99?0:datum.lv):(datum.lv==99?datum.pt:min(datum.lv+1,datum.pt)))","as":"zv"},
{"calculate":"187+229.5*(1-datum.ev)+126.5*(datum.pv+PI)","as":"x"},
{"calculate":"821+138*(1-datum.ev)-25*(datum.pv+PI)-32.8*datum.zv+1202.5*datum.pan","as":"y"},
{"calculate":"['#5f00ff','#3a00ff','#0a30ff','#0090ff','#00d8ff','#00ffe0','#00ffa0','#00ff50','#00ff00','#30ff00','#70ff00','#c0ff00','#ffe000','#ffa000','#ff6000','#ff0000']","as":"pal"},
{"calculate":"datum.lv==99?(datum.k==2?datum.pal[min(15,floor(datum.pt))]:'transparent'):datum.pal[datum.lv]","as":"fc"},
{"calculate":"datum.lv==99?'#000':datum.pal[datum.lv]","as":"sc"},
{"calculate":"datum.pan+'/'+datum.phi+'/'+datum.eta+'/'+datum.lv+'/'+datum.k","as":"id"}],
"mark":{"type":"line","filled":true,"strokeWidth":1.7,"strokeJoin":"miter"},
"encoding":{"x":{"field":"x","type":"quantitative"},"y":{"field":"y","type":"quantitative"},"detail":{"field":"id"},"order":{"field":"vv","type":"quantitative"},"fill":{"field":"fc","type":"nominal","scale":null},"stroke":{"field":"sc","type":"nominal","scale":null}}},
{"data":{"name":"frames"},"transform":[{"filter":"datum.kind=='front'"},{"calculate":"[0,1]","as":"panel"},{"flatten":["panel"]},{"calculate":"187+229.5*(1-datum.eta)+126.5*(datum.phi+PI)","as":"x"},{"calculate":"821+138*(1-datum.eta)-25*(datum.phi+PI)-32.8*datum.z+1202.5*datum.panel","as":"y"},{"calculate":"187+229.5*(1-datum.eta2)+126.5*(datum.phi2+PI)","as":"x2"},{"calculate":"821+138*(1-datum.eta2)-25*(datum.phi2+PI)-32.8*datum.z2+1202.5*datum.panel","as":"y2"}],
"mark":{"type":"rule","color":"#222","strokeWidth":1.8},
"encoding":{"x":{"field":"x","type":"quantitative"},"y":{"field":"y","type":"quantitative"},"x2":{"field":"x2"},"y2":{"field":"y2"}}},
{"data":{"name":"ticks"},"transform":[{"calculate":"[0,1]","as":"panel"},{"flatten":["panel"]},
{"calculate":"datum.axis=='z'?187:(datum.axis=='e'?187+229.5*(1-datum.v):646+126.5*(datum.v+PI))","as":"x"},
{"calculate":"(datum.axis=='z'?821-32.8*datum.v:(datum.axis=='e'?821+138*(1-datum.v):1097-25*(datum.v+PI)))+1202.5*datum.panel","as":"y"},
{"calculate":"datum.x+(datum.axis=='z'?-16:(datum.axis=='e'?-11:(datum.lab==''?4:9)))","as":"x2"},
{"calculate":"datum.y+(datum.axis=='z'?0:(datum.axis=='e'?11:(datum.lab==''?10:20)))","as":"y2"}],
"mark":{"type":"rule","color":"#333","strokeWidth":1.5},
"encoding":{"x":{"field":"x","type":"quantitative"},"y":{"field":"y","type":"quantitative"},"x2":{"field":"x2"},"y2":{"field":"y2"}}},
{"data":{"name":"ticks"},"transform":[{"filter":"datum.lab!=''"},{"calculate":"[0,1]","as":"panel"},{"flatten":["panel"]},
{"calculate":"datum.axis=='z'?158:(datum.axis=='e'?153+229.5*(1-datum.v):660+126.5*(datum.v+PI)+(length(datum.lab)==1?11:18))","as":"x"},
{"calculate":"(datum.axis=='z'?823-32.8*datum.v:(datum.axis=='e'?859+138*(1-datum.v):1144-25*(datum.v+PI)))+1202.5*datum.panel","as":"y"}],
"mark":{"type":"text","fontSize":44,"align":"right","baseline":"middle"},
"encoding":{"x":{"field":"x","type":"quantitative"},"y":{"field":"y","type":"quantitative"},"text":{"field":"lab"}}},
{"mark":{"type":"rect","color":"white"},"encoding":{"x":{"datum":0,"type":"quantitative"},"x2":{"datum":1439},"y":{"datum":0,"type":"quantitative"},"y2":{"datum":285}}},
{"mark":{"type":"rect","color":"white"},"encoding":{"x":{"datum":0,"type":"quantitative"},"x2":{"datum":1439},"y":{"datum":1180,"type":"quantitative"},"y2":{"datum":1479}}},
{"mark":{"type":"text","text":"η","font":"Liberation Serif","fontWeight":"normal","fontStyle":"italic","fontSize":62,"angle":30,"align":"center","baseline":"middle"},"encoding":{"x":{"datum":335,"type":"quantitative"},"y":{"datum":1036,"type":"quantitative"}}},
{"mark":{"type":"text","text":"η","font":"Liberation Serif","fontWeight":"normal","fontStyle":"italic","fontSize":62,"angle":30,"align":"center","baseline":"middle"},"encoding":{"x":{"datum":335,"type":"quantitative"},"y":{"datum":2238,"type":"quantitative"}}},
{"mark":{"type":"text","text":"ϕ","font":"DejaVu Serif","fontWeight":"normal","fontSize":56,"angle":-11,"align":"center","baseline":"middle"},"encoding":{"x":{"datum":1077,"type":"quantitative"},"y":{"datum":1117,"type":"quantitative"}}},
{"mark":{"type":"text","text":"ϕ","font":"DejaVu Serif","fontWeight":"normal","fontSize":56,"angle":-11,"align":"center","baseline":"middle"},"encoding":{"x":{"datum":1077,"type":"quantitative"},"y":{"datum":2319,"type":"quantitative"}}},
{"mark":{"type":"text","text":"p","fontSize":61,"angle":270},"encoding":{"x":{"datum":81,"type":"quantitative"},"y":{"datum":689,"type":"quantitative"}}},
{"mark":{"type":"text","text":"T","fontSize":40,"angle":270},"encoding":{"x":{"datum":108,"type":"quantitative"},"y":{"datum":653,"type":"quantitative"}}},
{"mark":{"type":"text","text":"[GeV/c]","fontSize":61,"angle":270},"encoding":{"x":{"datum":81,"type":"quantitative"},"y":{"datum":609,"type":"quantitative"}}},
{"mark":{"type":"text","text":"p","fontSize":61,"angle":270},"encoding":{"x":{"datum":81,"type":"quantitative"},"y":{"datum":1891,"type":"quantitative"}}},
{"mark":{"type":"text","text":"T","fontSize":40,"angle":270},"encoding":{"x":{"datum":108,"type":"quantitative"},"y":{"datum":1855,"type":"quantitative"}}},
{"mark":{"type":"text","text":"[GeV/c]","fontSize":61,"angle":270},"encoding":{"x":{"datum":81,"type":"quantitative"},"y":{"datum":1811,"type":"quantitative"}}},
{"mark":{"type":"text","text":"p","fontSize":75},"encoding":{"x":{"datum":512,"type":"quantitative"},"y":{"datum":73,"type":"quantitative"}}},
{"mark":{"type":"text","text":"T","fontSize":42},"encoding":{"x":{"datum":558,"type":"quantitative"},"y":{"datum":78,"type":"quantitative"}}},
{"mark":{"type":"text","text":"Const","fontSize":49},"encoding":{"x":{"datum":589,"type":"quantitative"},"y":{"datum":55,"type":"quantitative"}}},
{"mark":{"type":"text","text":"= 2 GeV/","fontSize":75},"encoding":{"x":{"datum":745,"type":"quantitative"},"y":{"datum":73,"type":"quantitative"}}},
{"mark":{"type":"text","text":"c","fontSize":75,"fontStyle":"italic"},"encoding":{"x":{"datum":1045,"type":"quantitative"},"y":{"datum":73,"type":"quantitative"}}},
{"mark":{"type":"text","text":"p","fontSize":75},"encoding":{"x":{"datum":503,"type":"quantitative"},"y":{"datum":163,"type":"quantitative"}}},
{"mark":{"type":"text","text":"T","fontSize":42},"encoding":{"x":{"datum":549,"type":"quantitative"},"y":{"datum":169,"type":"quantitative"}}},
{"mark":{"type":"text","text":"Lead","fontSize":49},"encoding":{"x":{"datum":579,"type":"quantitative"},"y":{"datum":146,"type":"quantitative"}}},
{"mark":{"type":"text","text":"> 16 GeV/","fontSize":75},"encoding":{"x":{"datum":710,"type":"quantitative"},"y":{"datum":163,"type":"quantitative"}}},
{"mark":{"type":"text","text":"c","fontSize":75,"fontStyle":"italic"},"encoding":{"x":{"datum":1051,"type":"quantitative"},"y":{"datum":163,"type":"quantitative"}}},
{"mark":{"type":"text","text":"p","fontSize":75},"encoding":{"x":{"datum":478,"type":"quantitative"},"y":{"datum":254,"type":"quantitative"}}},
{"mark":{"type":"text","text":"T","fontSize":42},"encoding":{"x":{"datum":524,"type":"quantitative"},"y":{"datum":259,"type":"quantitative"}}},
{"mark":{"type":"text","text":"SubLead","fontSize":49},"encoding":{"x":{"datum":555,"type":"quantitative"},"y":{"datum":235,"type":"quantitative"}}},
{"mark":{"type":"text","text":"> 8 GeV/","fontSize":75},"encoding":{"x":{"datum":778,"type":"quantitative"},"y":{"datum":254,"type":"quantitative"}}},
{"mark":{"type":"text","text":"c","fontSize":75,"fontStyle":"italic"},"encoding":{"x":{"datum":1078,"type":"quantitative"},"y":{"datum":254,"type":"quantitative"}}},
{"mark":{"type":"text","text":"p","fontSize":75},"encoding":{"x":{"datum":478,"type":"quantitative"},"y":{"datum":1356,"type":"quantitative"}}},
{"mark":{"type":"text","text":"T","fontSize":42},"encoding":{"x":{"datum":524,"type":"quantitative"},"y":{"datum":1361,"type":"quantitative"}}},
{"mark":{"type":"text","text":"Const","fontSize":49},"encoding":{"x":{"datum":555,"type":"quantitative"},"y":{"datum":1334,"type":"quantitative"}}},
{"mark":{"type":"text","text":"= 0.2 GeV/","fontSize":75},"encoding":{"x":{"datum":712,"type":"quantitative"},"y":{"datum":1356,"type":"quantitative"}}},
{"mark":{"type":"text","text":"c","fontSize":75,"fontStyle":"italic"},"encoding":{"x":{"datum":1075,"type":"quantitative"},"y":{"datum":1356,"type":"quantitative"}}},
{"mark":{"type":"text","text":"HardCore Jets","fontSize":86},"encoding":{"x":{"datum":697,"type":"quantitative"},"y":{"datum":417,"type":"quantitative"}}},
{"mark":{"type":"text","text":"Matched Jets","fontSize":88},"encoding":{"x":{"datum":628,"type":"quantitative"},"y":{"datum":1538,"type":"quantitative"}}},
{"data":{"name":"trails"},"mark":{"type":"trail","color":"black"},"encoding":{"x":{"field":"x","type":"quantitative"},"y":{"field":"y","type":"quantitative"},"detail":{"field":"a"},"order":{"field":"y","type":"quantitative"},"size":{"field":"w","type":"quantitative","scale":null,"legend":null}}},
{"data":{"name":"heads"},"mark":{"type":"line","filled":true,"fill":"black","stroke":"black","strokeWidth":6,"strokeJoin":"round"},"encoding":{"x":{"field":"x","type":"quantitative"},"y":{"field":"y","type":"quantitative"},"detail":{"field":"a"},"order":{"field":"o","type":"quantitative"}}}
]}
